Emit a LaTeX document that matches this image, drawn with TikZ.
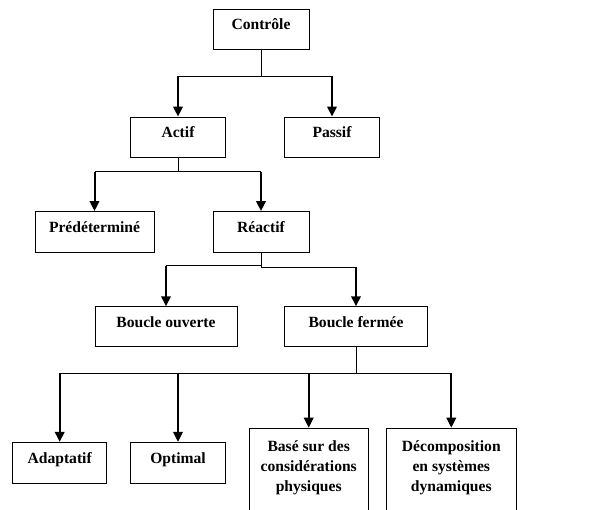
\documentclass[tikz,border=0pt]{standalone}
\usepackage{fontspec}
\setmainfont{Liberation Serif}
\usetikzlibrary{arrows.meta}
\begin{document}
\begin{tikzpicture}[x=1pt,y=-1pt,
  lbl/.style={font=\fontsize{15.6}{20}\selectfont\bfseries},
  box/.style={lbl,draw=black,line width=0.9pt,fill=white,inner sep=0pt,text height=11pt,text depth=10pt},
  tallbox/.style={lbl,draw=black,line width=0.9pt,fill=white,inner sep=0pt,anchor=north,text height=23.5pt,text depth=90pt},
  bus/.style={line width=0.9pt},
  arr/.style={line width=2pt,-{Triangle[length=10pt,width=9.5pt]}}]
\useasboundingbox (0,0) rectangle (596,509);
\clip (0,0) rectangle (596,509);
\fill[white] (0,0) rectangle (596,509);

\node[box,minimum width=96pt,minimum height=40pt] (ctrl) at (261,29.3) {Contrôle};
\node[box,minimum width=95pt,minimum height=40pt] (actif) at (178,137) {Actif};
\node[box,minimum width=95pt,minimum height=40pt] (passif) at (332,137) {Passif};
\node[box,minimum width=119pt,minimum height=41pt] (pred) at (94.5,232) {Prédéterminé};
\node[box,minimum width=96pt,minimum height=41pt] (react) at (261,232) {Réactif};
\node[box,minimum width=142pt,minimum height=40pt] (bo) at (166,326.7) {Boucle ouverte};
\node[box,minimum width=143pt,minimum height=40pt] (bf) at (356,326.7) {Boucle fermée};
\node[box,minimum width=94pt,minimum height=41pt] (adapt) at (59.7,462.8) {Adaptatif};
\node[box,minimum width=95pt,minimum height=41pt] (optim) at (178,462.8) {Optimal};
\node[tallbox,minimum width=118.7pt] (base) at (308.7,427.7) {\begin{tabular}[t]{@{}c@{}}Basé sur des\\considérations\\physiques\end{tabular}};
\node[tallbox,minimum width=130pt] (decomp) at (451.3,427.7) {\begin{tabular}[t]{@{}c@{}}Décomposition\\en systèmes\\dynamiques\end{tabular}};

% Contrôle -> Actif, Passif
\coordinate (b1) at (261,76);
\draw[bus] (ctrl.south) -- (b1);
\draw[bus] (actif.north |- b1) -- (passif.north |- b1);
\draw[arr] (actif.north |- b1) -- (actif.north);
\draw[arr] (passif.north |- b1) -- (passif.north);

% Actif -> Prédéterminé, Réactif
\coordinate (b2) at (178,171.7);
\draw[bus] (actif.south) -- (b2);
\draw[bus] (pred.north |- b2) -- (react.north |- b2);
\draw[arr] (pred.north |- b2) -- (pred.north);
\draw[arr] (react.north |- b2) -- (react.north);

% Réactif -> Boucle ouverte, Boucle fermée
\coordinate (b3) at (261,267);
\coordinate (b3a) at (261,265.5);
\draw[bus] (react.south) -- (b3) -- (bf.north |- b3);
\draw[bus] (b3a) -- (bo.north |- b3a);
\draw[arr] (bo.north |- b3a) -- (bo.north);
\draw[arr] (bf.north |- b3) -- (bf.north);

% Boucle fermée -> 4 children
\coordinate (b4) at (356,373.3);
\draw[bus] (bf.south) -- (b4);
\draw[bus] (adapt.north |- b4) -- (decomp.north |- b4);
\draw[arr] (adapt.north |- b4) -- (adapt.north);
\draw[arr] (optim.north |- b4) -- (optim.north);
\draw[arr] (base.north |- b4) -- (base.north);
\draw[arr] (decomp.north |- b4) -- (decomp.north);
\end{tikzpicture}
\end{document}
